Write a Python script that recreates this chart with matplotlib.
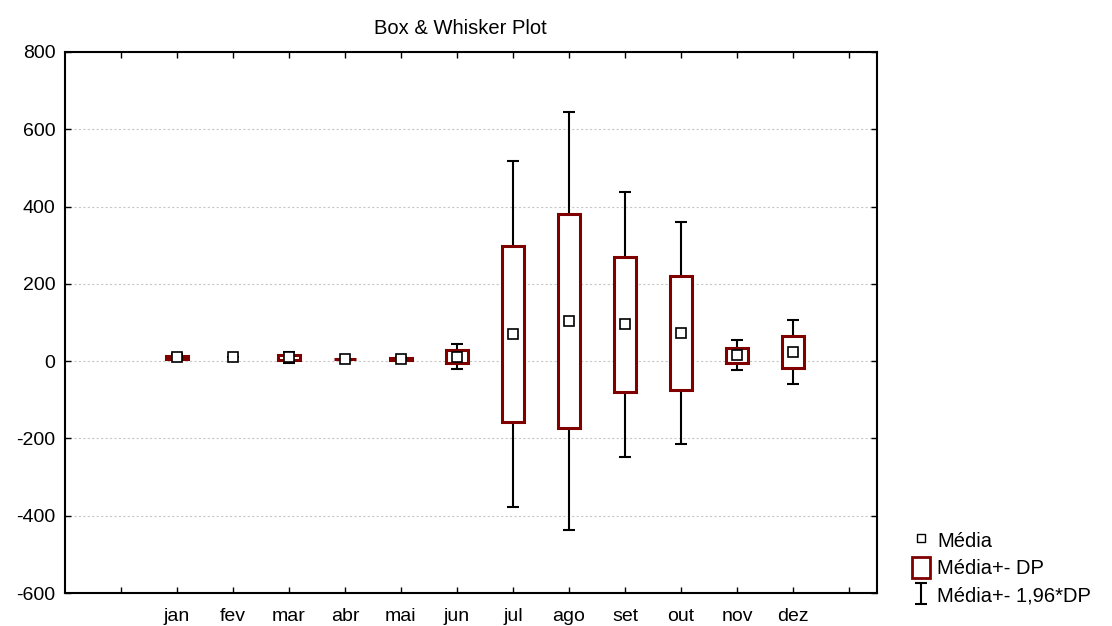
import matplotlib
matplotlib.use("Agg")
import matplotlib.pyplot as plt
from matplotlib.lines import Line2D
from matplotlib.patches import Patch

plt.rcParams['font.family'] = ['Liberation Sans', 'DejaVu Sans']
plt.rcParams['axes.unicode_minus'] = False

# dados: média e desvio padrão por mês
meses = ['jan', 'fev', 'mar', 'abr', 'mai', 'jun',
         'jul', 'ago', 'set', 'out', 'nov', 'dez']
media = [10, 12, 10, 5, 5, 12, 70, 104, 95, 73, 15, 23]
dp = [4, 0, 7, 0.4, 2.5, 16, 228, 276, 175, 147, 20, 42]

vermelho = '#800000'


def plot_box_whisker():
    x = list(range(len(meses)))
    caixa_base = [m - s for m, s in zip(media, dp)]
    caixa_alt = [2 * s for s in dp]
    bigode = [1.96 * s for s in dp]
    espessura = [2.2 if s > 0 else 0 for s in dp]

    fig = plt.figure(figsize=(11.12, 6.26), dpi=100)
    ax = fig.add_axes([65 / 1112, 33 / 626, 812 / 1112, 541 / 626])

    # bigodes (média +- 1,96*DP)
    eb = ax.errorbar(x, media, yerr=bigode, fmt='none', ecolor='black',
                     elinewidth=1.5, capsize=4, capthick=1.5, zorder=2)

    # caixas (média +- DP)
    ax.bar(x, caixa_alt, bottom=caixa_base, width=0.38, facecolor='white',
           edgecolor=vermelho, linewidth=espessura, zorder=3)

    # média
    ax.plot(x, media, 's', ms=7.5, mfc='white', mec='black', mew=1.2,
            ls='none', zorder=4)

    ax.set_xlim(-2, 12.5)
    ax.set_ylim(-600, 800)
    ax.set_yticks(range(-600, 801, 200))
    ax.set_xticks(range(-1, 13))
    ax.set_xticklabels([''] + meses + [''])
    ax.yaxis.grid(True, linestyle=(0, (2, 2)), color='#c8c8c8', linewidth=0.8)
    ax.set_axisbelow(True)

    ax.tick_params(direction='in', length=4, width=1, top=True, right=True,
                   labelsize=14, colors='black')
    ax.tick_params(axis='x', pad=11)
    ax.tick_params(axis='y', pad=7)
    for s in ax.spines.values():
        s.set_linewidth(1.5)

    fig.text(460 / 1112, 1 - 28 / 626, 'Box & Whisker Plot', ha='center',
             va='center', fontsize=14.5)

    handles = [
        Line2D([], [], marker='s', ms=6, mfc='white', mec='black', mew=1,
               ls='none'),
        Patch(facecolor='white', edgecolor=vermelho, linewidth=2),
        eb,
    ]
    labels = ['Média', 'Média+- DP', 'Média+- 1,96*DP']
    fig.legend(handles, labels, loc='lower left',
               bbox_to_anchor=(912 / 1112, 20 / 626), frameon=False,
               fontsize=14.5, handlelength=0.9, handleheight=1.2,
               handletextpad=0.35, labelspacing=0.32, borderaxespad=0,
               borderpad=0)

    fig.savefig('out.png', dpi=100)


if __name__ == '__main__':
    plot_box_whisker()
